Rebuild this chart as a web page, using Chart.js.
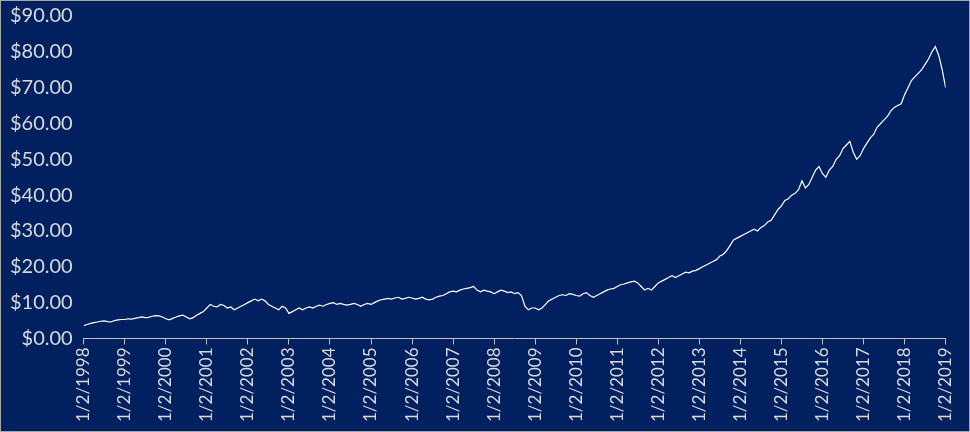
<!DOCTYPE html>
<html><head><meta charset="utf-8">
<script src="https://cdn.jsdelivr.net/npm/chart.js@4/dist/chart.umd.min.js"></script>
<style>html,body{margin:0;padding:0;background:#fff}#w{width:968px;height:430px;border:1px solid #a6a6a6;background:#002060}</style>
</head><body><div id="w"><canvas id="c"></canvas></div>
<script>
const startYear = 1998;
const yearTicks = ["1/2/1998","1/2/1999","1/2/2000","1/2/2001","1/2/2002","1/2/2003","1/2/2004","1/2/2005","1/2/2006","1/2/2007","1/2/2008","1/2/2009","1/2/2010","1/2/2011","1/2/2012","1/2/2013","1/2/2014","1/2/2015","1/2/2016","1/2/2017","1/2/2018","1/2/2019"];
const monthlyPrice = [
3.6,3.9,4.2,4.4,4.6,4.8,4.9,4.7,4.6,5.0,5.2,5.3,
5.3,5.5,5.4,5.6,5.8,6.0,5.8,5.9,6.2,6.4,6.3,6.0,
5.5,5.2,5.6,6.0,6.3,6.5,6.0,5.5,5.8,6.5,7.0,7.5,
8.5,9.5,9.0,8.8,9.5,9.2,8.5,8.8,8.0,8.5,9.0,9.5,
10.0,10.5,11.0,10.5,11.0,10.5,9.5,9.0,8.5,8.0,9.0,8.5,
7.0,7.5,8.0,8.5,8.0,8.5,8.8,8.5,9.0,9.3,9.0,9.5,
9.8,10.0,9.5,9.8,9.5,9.3,9.5,9.8,9.5,9.0,9.5,9.8,
9.5,10.0,10.5,10.8,11.0,11.2,11.0,11.3,11.5,11.0,11.2,11.5,
11.3,11.0,11.2,11.5,11.0,10.8,11.0,11.5,11.8,12.0,12.5,13.0,
13.2,13.0,13.5,13.8,14.0,14.2,14.5,13.5,13.0,13.5,13.2,13.0,
12.5,13.0,13.5,13.2,12.8,13.0,12.5,12.8,12.0,9.0,8.0,8.5,
8.5,8.0,8.5,9.5,10.5,11.0,11.5,12.0,12.2,12.0,12.5,12.3,
12.0,11.8,12.5,12.8,12.0,11.5,12.0,12.5,13.0,13.5,13.8,14.0,
14.5,15.0,15.2,15.5,15.8,16.0,15.5,14.5,13.5,14.0,13.5,14.5,
15.5,16.0,16.5,17.0,17.5,17.0,17.5,18.0,18.5,18.3,18.8,19.0,
19.5,20.0,20.5,21.0,21.5,22.0,23.0,23.5,24.5,26.0,27.5,28.0,
28.5,29.0,29.5,30.0,30.5,30.0,31.0,31.5,32.5,33.0,34.5,36.0,
37.0,38.5,39.0,40.0,40.5,41.5,44.0,42.0,43.0,45.0,47.0,48.0,
46.0,45.0,47.0,48.0,50.0,51.0,53.0,54.0,55.0,52.0,50.0,51.0,
53.0,54.5,56.0,57.0,59.0,60.0,61.0,62.0,63.5,64.5,65.0,65.5,
68.0,70.0,72.0,73.0,74.0,75.0,76.5,78.0,80.0,81.5,79.0,75.0,
70.0];
const pts = monthlyPrice.map((v,i)=>({x:startYear+i/12,y:v}));
const txt='#d9d9d9';
new Chart(document.getElementById('c'),{type:'line',
data:{datasets:[{data:pts,borderColor:'#ffffff',borderWidth:1.2,pointRadius:0,tension:0}]},
options:{responsive:true,maintainAspectRatio:false,animation:false,
layout:{padding:{left:6,right:4,top:10,bottom:6}},
plugins:{legend:{display:false},tooltip:{enabled:false}},
scales:{
x:{type:'linear',min:1998,max:2019,
 afterBuildTicks:a=>{a.ticks=yearTicks.map((t,i)=>({value:startYear+i}));},
 ticks:{color:txt,font:{family:'Lato',size:17},maxRotation:90,minRotation:90,autoSkip:false,
   callback:(v)=>yearTicks[Math.round(v-startYear)]},
 grid:{display:true,drawOnChartArea:false,color:'#bfbfbf',tickLength:6},
 border:{color:'#bfbfbf'}},
y:{min:0,max:90,
 ticks:{stepSize:10,color:txt,font:{family:'Lato',size:20},callback:v=>'$'+v.toFixed(2)},
 grid:{display:false},border:{display:false}}
}}});
</script></body></html>
